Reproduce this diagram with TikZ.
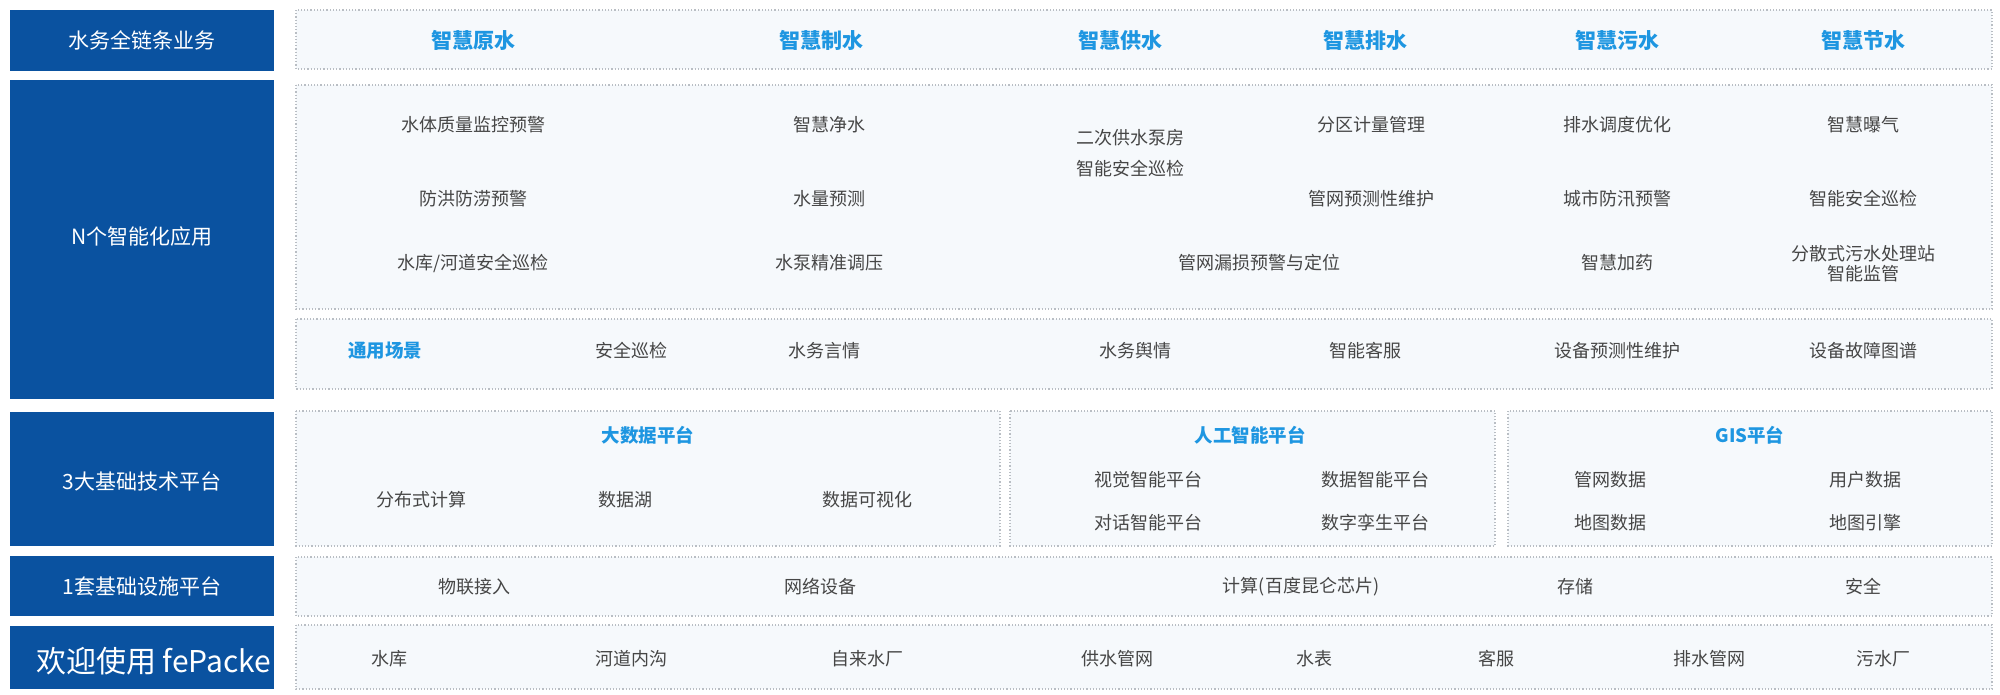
\documentclass[tikz,border=0pt]{standalone}
\usepackage{fontspec}
\newfontfamily\cjk{Noto Sans CJK SC}
\definecolor{navy}{RGB}{10,82,160}
\definecolor{hdblue}{RGB}{30,150,225}
\definecolor{itgray}{RGB}{70,70,70}
\definecolor{dotgray}{RGB}{185,190,196}
\definecolor{panel}{RGB}{246,249,252}
\tikzset{
  lab/.style={fill=navy,draw=none,text=white,font=\cjk\fontsize{21}{24}\selectfont,inner sep=0pt},
  panelbox/.style={draw=dotgray,dotted,line width=1.2pt,fill=panel},
  hd/.style={text=hdblue,font=\cjk\bfseries\fontsize{21}{24}\selectfont,inner sep=1pt},
  sub/.style={text=hdblue,font=\cjk\bfseries\fontsize{18.5}{22}\selectfont,inner sep=1pt},
  it/.style={text=itgray,font=\cjk\fontsize{18}{25}\selectfont,inner sep=1pt,align=center},
}
\begin{document}
\begin{tikzpicture}[x=1pt,y=-1pt]
\useasboundingbox (0,0) rectangle (2000,694);
\fill[white] (0,0) rectangle (2000,694);
% left labels
\draw[lab] (10,10) rectangle (274,71) node[midway] (l1) {水务全链条业务};
\draw[lab] (10,80) rectangle (274,399);
\node[lab,fill=none] (l2) at (142,237) {N个智能化应用};
\draw[lab] (10,412) rectangle (274,546);
\node[lab,fill=none] (l3) at (142,481) {3大基础技术平台};
\draw[lab] (10,556) rectangle (274,616) node[midway] (l4) {1套基础设施平台};
\draw[lab] (10,626) rectangle (274,689);
% panels
\draw[panelbox] (296,10) rectangle (1992,69);
\draw[panelbox] (296,85) rectangle (1992,309);
\draw[panelbox] (296,319) rectangle (1992,389);
\draw[panelbox] (296,411) rectangle (1000,546);
\draw[panelbox] (1010,411) rectangle (1495,546);
\draw[panelbox] (1508,411) rectangle (1992,546);
\draw[panelbox] (296,557) rectangle (1992,616);
\draw[panelbox] (296,625) rectangle (1992,689);
% row 1
\node[hd] (b1) at (473,40) {智慧原水};
\node[hd] (b2) at (821,40) {智慧制水};
\node[hd] (b3) at (1120,40) {智慧供水};
\node[hd] (b4) at (1365,40) {智慧排水};
\node[hd] (b5) at (1617,40) {智慧污水};
\node[hd] (b6) at (1863,40) {智慧节水};
% apps
\node[it] (a11) at (473,125) {水体质量监控预警};
\node[it] (a12) at (473,199) {防洪防涝预警};
\node[it] (a13) at (473,263) {水库/河道安全巡检};
\node[it] (a21) at (829,125) {智慧净水};
\node[it] (a22) at (829,199) {水量预测};
\node[it] (a23) at (829,263) {水泵精准调压};
\node[it] (a31) at (1130,153) {二次供水泵房\\[6pt]智能安全巡检};
\node[it] (a41) at (1371,125) {分区计量管理};
\node[it] (a42) at (1371,199) {管网预测性维护};
\node[it] (a43) at (1259,263) {管网漏损预警与定位};
\node[it] (a51) at (1617,125) {排水调度优化};
\node[it] (a52) at (1617,199) {城市防汛预警};
\node[it] (a53) at (1617,263) {智慧加药};
\node[it] (a61) at (1863,125) {智慧曝气};
\node[it] (a62) at (1863,199) {智能安全巡检};
\node[it,font=\cjk\fontsize{18}{20}\selectfont] (a63) at (1863,264) {分散式污水处理站\\智能监管};
% common scenes
\node[sub] (g0) at (385,351) {通用场景};
\node[it] (g1) at (631,351) {安全巡检};
\node[it] (g2) at (824,351) {水务言情};
\node[it] (g3) at (1135,351) {水务舆情};
\node[it] (g4) at (1365,351) {智能客服};
\node[it] (g5) at (1617,351) {设备预测性维护};
\node[it] (g6) at (1863,351) {设备故障图谱};
% platforms
\node[sub] (p1) at (648,435) {大数据平台};
\node[it] (p11) at (421,500) {分布式计算};
\node[it] (p12) at (625,500) {数据湖};
\node[it] (p13) at (867,500) {数据可视化};
\node[sub] (p2) at (1250,435) {人工智能平台};
\node[it] (p21) at (1148,480) {视觉智能平台};
\node[it] (p22) at (1375,480) {数据智能平台};
\node[it] (p23) at (1148,523) {对话智能平台};
\node[it] (p24) at (1375,523) {数字孪生平台};
\node[sub] (p3) at (1750,435) {GIS平台};
\node[it] (p31) at (1610,480) {管网数据};
\node[it] (p32) at (1865,480) {用户数据};
\node[it] (p33) at (1610,523) {地图数据};
\node[it] (p34) at (1865,523) {地图引擎};
% infrastructure
\node[it] (i1) at (474,587) {物联接入};
\node[it] (i2) at (820,587) {网络设备};
\node[it] (i3) at (1301,587) {计算(百度昆仑芯片)};
\node[it] (i4) at (1575,587) {存储};
\node[it] (i5) at (1863,587) {安全};
% terminals
\node[it] (t1) at (389,659) {水库};
\node[it] (t2) at (631,659) {河道内沟};
\node[it] (t3) at (867,659) {自来水厂};
\node[it] (t4) at (1117,659) {供水管网};
\node[it] (t5) at (1314,659) {水表};
\node[it] (t6) at (1496,659) {客服};
\node[it] (t7) at (1709,659) {排水管网};
\node[it] (t8) at (1883,659) {污水厂};
% watermark
\node[anchor=west,text=white,font=\cjk\fontsize{30}{34}\selectfont,inner sep=0pt] (wm) at (36,661) {欢迎使用 fePacke};
\end{tikzpicture}
\end{document}
